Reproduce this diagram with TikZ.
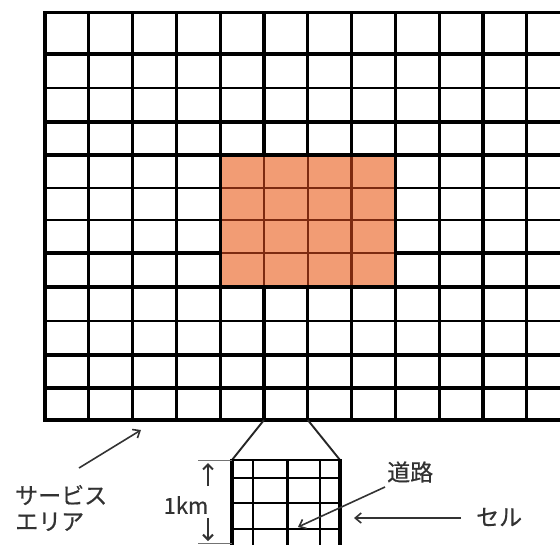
\documentclass[tikz,border=0pt]{standalone}
\usepackage{fontspec}
\setmainfont{Noto Sans CJK JP}
\newfontfamily\jp[FakeBold=0.6]{Noto Sans CJK JP}
\usetikzlibrary{arrows.meta}
\definecolor{cellorange}{RGB}{242,156,116}
\definecolor{cellbrown}{RGB}{125,42,16}
\definecolor{txtgray}{RGB}{50,50,50}
\tikzset{
  gridline/.style={line width=3.1pt, black},
  thingrid/.style={line width=2.2pt, black},
  innerline/.style={line width=2.6pt, cellbrown},
  insetline/.style={line width=2.1pt, black},
  insetedge/.style={line width=3.2pt, black},
  trapline/.style={line width=1.9pt, black!85},
  dimline/.style={line width=1pt, black!55},
  callout/.style={line width=1.6pt, black!80, -{Straight Barb[length=6pt,width=10pt,line width=1.6pt]}},
  dimarrow/.style={line width=2pt, black!80, -{Straight Barb[length=5pt,width=10pt,line width=2pt]}},
  label/.style={font=\jp\fontsize{23}{26}\selectfont, text=txtgray, inner sep=0pt}
}
\begin{document}
\begin{tikzpicture}[x=1pt,y=-1pt]
\useasboundingbox (0,0) rectangle (560,544);
% grid
\foreach \y in {12.7,54,122,155,253,287,355,388,420}
  \draw[gridline] (45,\y) -- (562,\y);
\foreach \y in {88,188,220,321}
  \draw[thingrid] (45,\y) -- (562,\y);
\foreach \i in {0,...,11}
  \draw[gridline] ({45+43.8*\i},11.2) -- ({45+43.8*\i},421.5);
% orange block
\fill[cellorange] (220.2,155) rectangle (395.4,287);
\foreach \x in {264,307.8,351.6}
  \draw[innerline] (\x,155) -- (\x,287);
\foreach \y in {188,220,253}
  \draw[innerline] (220.2,\y) -- (395.4,\y);
\draw[gridline] (220.2,155) rectangle (395.4,287);
% enlargement trapezoid
\coordinate (tl) at (264,420);
\coordinate (tr) at (307.8,420);
\coordinate (bl) at (232,460);
\coordinate (br) at (340,460);
\draw[trapline] (tl) -- (bl);
\draw[trapline] (tr) -- (br);
% inset grid
\foreach \x in {253,287.5,319.6}
  \draw[insetline] (\x,460) -- (\x,546);
\foreach \y in {478,503,529}
  \draw[insetline] (232,\y) -- (340,\y);
\draw[insetline] (bl) -- (br);
\draw[insetedge] (232,459) -- (232,546);
\draw[insetedge] (340,459) -- (340,546);
% dimension 1km
\coordinate (dt) at (198,460);
\coordinate (db) at (198,543);
\draw[dimline] (dt) -- (bl);
\draw[dimline] (db) -- (232,543);
\coordinate (uptip) at (208,463);
\coordinate (upend) at (208,486);
\coordinate (dnstart) at (208,518);
\coordinate (dntip) at (208,541);
\draw[dimarrow] (upend) -- (uptip);
\draw[dimarrow] (dnstart) -- (dntip);
\node[label, font=\jp\fontsize{22}{24}\selectfont, anchor=center] (km) at (186,505) {1km};
% labels
\node[label, anchor=west, align=left] (service) at (15,508) {サービス\\エリア};
\node[label, anchor=west] (road) at (387,472) {道路};
\node[label, anchor=west] (cell) at (476,517) {セル};
% callouts
\coordinate (sa0) at (79,468);
\coordinate (sa1) at (141,430);
\draw[callout] (sa0) -- (sa1);
\coordinate (rd0) at (385,487);
\coordinate (rd1) at (298,527);
\draw[callout] (rd0) -- (rd1);
\coordinate (ce0) at (461,518);
\coordinate (ce1) at (354,518);
\draw[callout] (ce0) -- (ce1);
\end{tikzpicture}
\end{document}
